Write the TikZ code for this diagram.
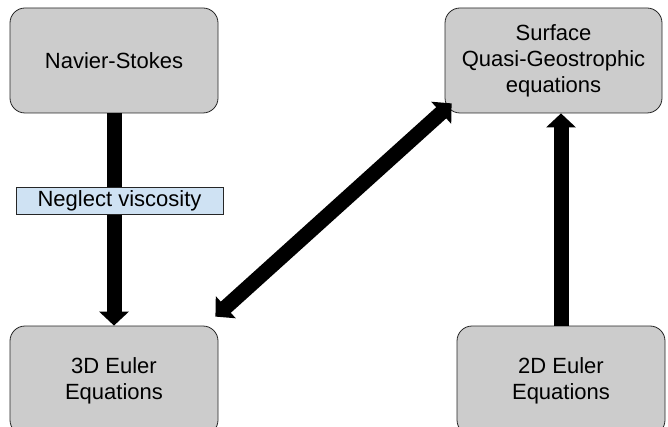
\documentclass[tikz,border=0pt]{standalone}
\usepackage{fontspec}
\setmainfont{Liberation Sans}
\usetikzlibrary{arrows.meta}
\definecolor{boxgray}{HTML}{CCCCCC}
\definecolor{labelblue}{HTML}{CFE2F3}
\begin{document}
\begin{tikzpicture}[x=1pt, y=-1pt,
    every node/.style={font=\fontsize{22}{26}\selectfont, align=center},
    eqbox/.style={draw=black!85, line width=0.8pt, fill=boxgray, rounded corners=15pt},
    bigarrow/.style={line width=15pt, -{Triangle[width=29pt, length=14pt]}}]
  \clip (0,0) rectangle (668,427);
  \fill[white] (0,0) rectangle (668,427);

  \node[eqbox, minimum width=208pt, minimum height=105pt] (ns) at (114,60.5) {Navier-Stokes};
  \node[eqbox, minimum width=217pt, minimum height=105pt] (sqg) at (553.5,60.5) {Surface\\Quasi-Geostrophic\\equations};
  \node[eqbox, minimum width=208pt, minimum height=109pt] (euler3) at (114,380.5) {3D Euler\\Equations};
  \node[eqbox, minimum width=208pt, minimum height=109pt] (euler2) at (561,380.5) {2D Euler\\Equations};

  \draw[bigarrow] (ns) -- (euler3);
  \draw[bigarrow, {Triangle[width=29pt, length=14pt]}-{Triangle[width=29pt, length=14pt]}]
    ([shift={(-3,-9)}]euler3.north east) -- ([shift={(7,-10)}]sqg.south west);
  \draw[bigarrow] (euler2.north) -- (euler2.north |- sqg.south);

  \node[draw=black!85, line width=0.8pt, fill=labelblue, minimum width=207pt, minimum height=27pt, inner sep=0pt] (neglect) at (119.5,200.5) {Neglect viscosity};
\end{tikzpicture}
\end{document}
